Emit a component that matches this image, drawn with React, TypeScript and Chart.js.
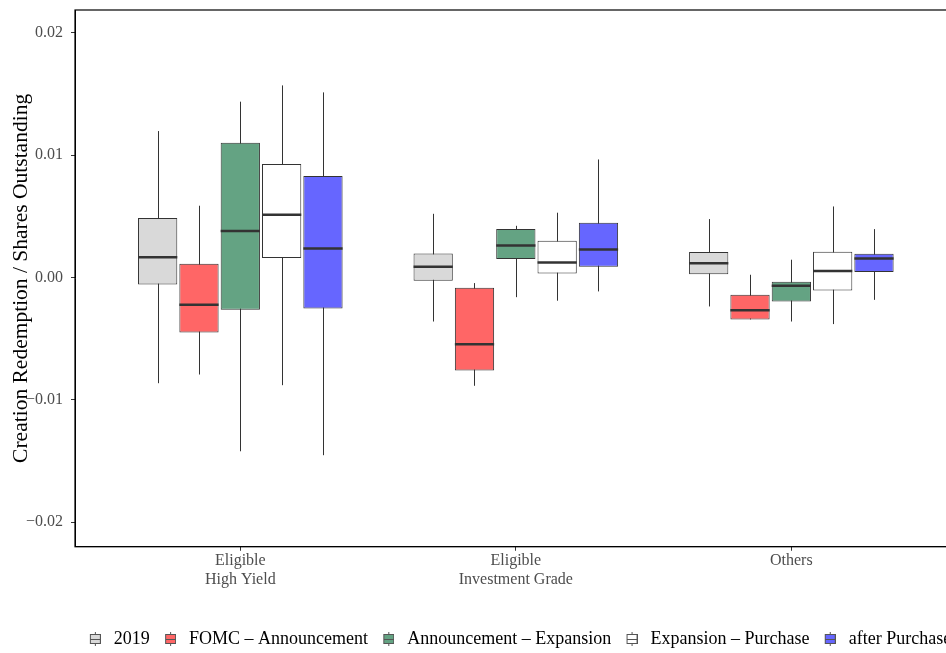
import React, { useEffect, useRef } from "react";
import { Chart, registerables } from "chart.js";
Chart.register(...registerables);

const FONT = "'Liberation Serif', 'Times New Roman', serif";

const categories = [["Eligible", "High Yield"], ["Eligible", "Investment Grade"], ["Others"]];
const seriesNames = ["2019", "FOMC \u2013 Announcement", "Announcement \u2013 Expansion", "Expansion \u2013 Purchase", "after Purchase"];
const seriesColors = ["#D9D9D9", "#FF6666", "#64A383", "#FFFFFF", "#6666FF"];

// [min, q1, median, q3, max] for each category
const s2019 = [
  [-0.00864, -0.00057, 0.00166, 0.00485, 0.01196],
  [-0.0036, -0.00027, 0.00087, 0.00196, 0.0052],
  [-0.00237, 0.00027, 0.00117, 0.00207, 0.00477],
];
const sFomcAnn = [
  [-0.00793, -0.0045, -0.00223, 0.00112, 0.00586],
  [-0.00885, -0.0076, -0.00545, -0.00085, -0.00046],
  [-0.00343, -0.00343, -0.00267, -0.00141, 0.00022],
];
const sAnnExp = [
  [-0.0142, -0.00264, 0.00379, 0.011, 0.01436],
  [-0.00161, 0.0015, 0.00262, 0.00395, 0.00422],
  [-0.0036, -0.00196, -0.00068, -0.00035, 0.00145],
];
const sExpPur = [
  [-0.0088, 0.00158, 0.00512, 0.00926, 0.01569],
  [-0.0019, 0.00033, 0.00123, 0.003, 0.00529],
  [-0.00381, -0.00106, 0.00052, 0.0021, 0.0058],
];
const sAfter = [
  [-0.01452, -0.00253, 0.00237, 0.00828, 0.01512],
  [-0.00114, 0.00087, 0.00229, 0.00447, 0.00964],
  [-0.00183, 0.00044, 0.00155, 0.00193, 0.00395],
];
const allSeries = [s2019, sFomcAnn, sAnnExp, sExpPur, sAfter];
const yTicks = [-0.02, -0.01, 0, 0.01, 0.02];
const yTitle = "Creation Redemption / Shares Outstanding";

function fmt(v: number) {
  const s = Math.abs(v).toFixed(2);
  return v < -1e-9 ? "\u2212" + s : s;
}

function makeGlyph(fill: string) {
  const c = document.createElement("canvas");
  c.width = 12;
  c.height = 16;
  const g = c.getContext("2d")!;
  g.strokeStyle = "#555555";
  g.lineWidth = 1;
  g.beginPath();
  g.moveTo(6.5, 1);
  g.lineTo(6.5, 15);
  g.stroke();
  g.fillStyle = fill;
  g.fillRect(1, 3, 11, 10);
  g.strokeRect(1.5, 3.5, 10, 9);
  g.beginPath();
  g.moveTo(1, 8.5);
  g.lineTo(12, 8.5);
  g.stroke();
  return c;
}

const boxPlugin = {
  id: "boxWhiskers",
  beforeDatasetsDraw(chart: any) {
    const ctx = chart.ctx;
    const y = chart.scales.y;
    ctx.save();
    ctx.strokeStyle = "#333333";
    ctx.lineWidth = 1;
    chart.data.datasets.forEach((ds: any, i: number) => {
      const meta = chart.getDatasetMeta(i);
      meta.data.forEach((el: any, j: number) => {
        const st = ds.stats[j];
        const px = Math.round(el.x) + 0.5;
        ctx.beginPath();
        ctx.moveTo(px, y.getPixelForValue(st[0]));
        ctx.lineTo(px, y.getPixelForValue(st[4]));
        ctx.stroke();
      });
    });
    ctx.restore();
  },
  afterDatasetsDraw(chart: any) {
    const ctx = chart.ctx;
    const y = chart.scales.y;
    ctx.save();
    ctx.strokeStyle = "#333333";
    ctx.lineWidth = 2.5;
    chart.data.datasets.forEach((ds: any, i: number) => {
      const meta = chart.getDatasetMeta(i);
      meta.data.forEach((el: any, j: number) => {
        const st = ds.stats[j];
        const py = y.getPixelForValue(st[2]);
        ctx.beginPath();
        ctx.moveTo(el.x - el.width / 2, py);
        ctx.lineTo(el.x + el.width / 2, py);
        ctx.stroke();
      });
    });
    const a = chart.chartArea;
    ctx.strokeStyle = "#000000";
    ctx.lineWidth = 1.2;
    ctx.strokeRect(a.left, a.top, a.right - a.left, a.bottom - a.top);
    ctx.restore();
  },
};

export default function App() {
  const ref = useRef<HTMLCanvasElement>(null);
  useEffect(() => {
    const canvas = ref.current!;
    const glyphs = seriesColors.map(makeGlyph);
    const datasets = allSeries.map((s, i) => ({
      label: seriesNames[i],
      data: s.map((st, j) => ({ x: j + 1, y: [st[1], st[3]] })),
      stats: s,
      backgroundColor: seriesColors[i],
      borderColor: "#333333",
      borderWidth: 1,
      borderSkipped: false,
      categoryPercentage: 0.75,
      barPercentage: 0.95,
    }));
    const chart = new Chart(canvas, {
      type: "bar",
      data: { datasets } as any,
      plugins: [boxPlugin],
      options: {
        animation: false,
        responsive: false,
        devicePixelRatio: 1,
        layout: { padding: { top: 10, left: 0, right: 0, bottom: 0 } },
        plugins: {
          tooltip: { enabled: false },
          legend: {
            position: "bottom",
            labels: {
              usePointStyle: true,
              pointStyleWidth: 20,
              padding: 10.25,
              color: "#000000",
              font: { family: FONT, size: 18 },
              generateLabels: () =>
                seriesNames.map((t, i) => ({
                  text: t,
                  pointStyle: glyphs[i] as any,
                  fillStyle: seriesColors[i],
                  strokeStyle: "#333333",
                  lineWidth: 0,
                  hidden: false,
                  datasetIndex: i,
                  fontColor: "#000000",
                })),
            },
          },
        },
        scales: {
          x: {
            type: "linear",
            min: 0.4,
            max: 3.888,
            offset: false,
            afterBuildTicks: (s: any) => {
              s.ticks = [1, 2, 3].map((v) => ({ value: v }));
            },
            afterFit: (s: any) => {
              s.height = 73;
            },
            ticks: {
              autoSkip: false,
              maxRotation: 0,
              padding: 0,
              color: "#4D4D4D",
              font: { family: FONT, size: 16 },
              callback: (v: any) => categories[Math.round(v) - 1],
            },
            grid: { drawOnChartArea: false, drawTicks: true, tickLength: 4, color: "#333333", offset: false },
            border: { display: true, color: "#000000" },
          },
          y: {
            type: "linear",
            min: -0.022,
            max: 0.02185,
            afterBuildTicks: (s: any) => {
              s.ticks = yTicks.map((v) => ({ value: v }));
            },
            afterFit: (s: any) => {
              s.width = 75;
              s.paddingTop = 0;
              s.paddingBottom = 0;
            },
            ticks: {
              padding: 8,
              color: "#4D4D4D",
              font: { family: FONT, size: 16 },
              callback: (v: any) => fmt(Number(v)),
            },
            grid: { drawOnChartArea: false, drawTicks: true, tickLength: 4, color: "#333333" },
            border: { display: true, color: "#000000" },
            title: {
              display: true,
              text: yTitle,
              color: "#000000",
              font: { family: FONT, size: 21.5 },
              padding: { top: 8, bottom: 0 },
            },
          },
        },
      } as any,
    });
    return () => chart.destroy();
  }, []);
  return (
    <div style={{ position: "fixed", left: 0, top: 0, width: 946, height: 653, overflow: "hidden", background: "#fff" }}>
      <canvas ref={ref} width={1036} height={658} style={{ width: 1036, height: 658, display: "block" }} />
    </div>
  );
}
